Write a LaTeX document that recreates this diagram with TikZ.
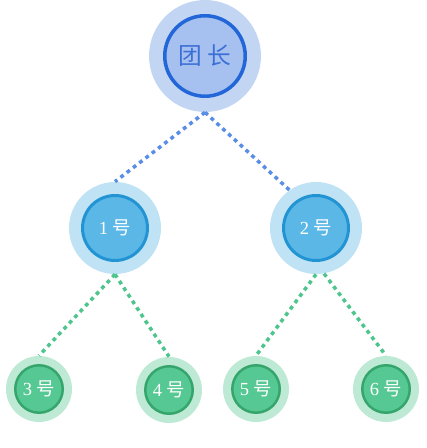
\documentclass[tikz,border=0pt]{standalone}
\usepackage{fontspec}
\setmainfont{Liberation Serif}
\newfontfamily\cjk{Noto Sans CJK SC}
\definecolor{leadHalo}{HTML}{C2D6F4}
\definecolor{leadFill}{HTML}{A6C1F0}
\definecolor{leadRim}{HTML}{2266D8}
\definecolor{leadText}{HTML}{3C70D6}
\definecolor{midHalo}{HTML}{BFE2F5}
\definecolor{midFill}{HTML}{5BB7E6}
\definecolor{midRim}{HTML}{2394D3}
\definecolor{leafHalo}{HTML}{BDE9D5}
\definecolor{leafFill}{HTML}{56C893}
\definecolor{leafRim}{HTML}{35A56B}
\definecolor{blueDots}{HTML}{5A8EE6}
\definecolor{greenDots}{HTML}{4DC58C}
\begin{document}
\begin{tikzpicture}[x=0.02cm, y=-0.02cm,
  every node/.style={circle, inner sep=0pt},
  leadbg/.style={fill=leadHalo, minimum size=2.24cm},
  leadfg/.style={fill=leadFill, draw=leadRim, line width=2pt, minimum size=1.61cm, text=leadText, font=\fontsize{13.5pt}{14pt}\selectfont},
  midbg/.style={fill=midHalo, minimum size=1.84cm},
  midfg/.style={fill=midFill, draw=midRim, line width=1.7pt, minimum size=1.3cm, text=white, font=\fontsize{10.5pt}{11pt}\selectfont},
  leafbg/.style={fill=leafHalo, minimum size=1.32cm},
  leaffg/.style={fill=leafFill, draw=leafRim, line width=1.4pt, minimum size=0.95cm, text=white, font=\fontsize{10.5pt}{11pt}\selectfont},
  bluelink/.style={draw=blueDots, line width=2pt, dash pattern=on 2.2pt off 2.3pt},
  greenlink/.style={draw=greenDots, line width=2pt, dash pattern=on 2.2pt off 2.3pt}]
\useasboundingbox (0,0) rectangle (426,448);
% leader
\node[leadbg] (lead) at (205,56) {};
\node[leadfg] (lead-c) at (lead) {{\cjk 团}\hspace{3pt}{\cjk 长}};
% first level
\node[midbg] (n1) at (115,228) {};
\node[midfg] (n1-c) at (n1) {1 {\cjk 号}};
\node[midbg] (n2) at (316,228) {};
\node[midfg] (n2-c) at (n2) {2 {\cjk 号}};
% second level
\node[leafbg] (n3) at (39,389) {};
\node[leaffg] (n3-c) at (n3) {3 {\cjk 号}};
\node[leafbg] (n4) at (169,390) {};
\node[leaffg] (n4-c) at (n4) {4 {\cjk 号}};
\node[leafbg] (n5) at (256,389) {};
\node[leaffg] (n5-c) at (n5) {5 {\cjk 号}};
\node[leafbg] (n6) at (386,389) {};
\node[leaffg] (n6-c) at (n6) {6 {\cjk 号}};
% links
\draw[bluelink] (lead.south) -- (n1.north);
\draw[bluelink] (lead.south) -- (n2.125);
\draw[greenlink] (n1.south) -- (n3.north);
\draw[greenlink] (n1.south) -- (n4.north);
\draw[greenlink] (n2.south) -- (n5.north);
\draw[greenlink] (n2.-80) -- (n6.north);
\end{tikzpicture}
\end{document}
